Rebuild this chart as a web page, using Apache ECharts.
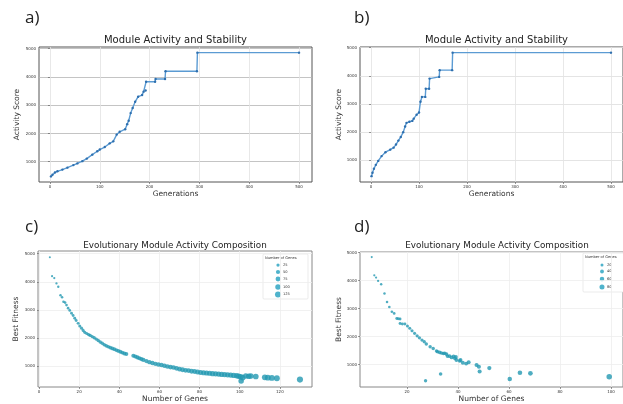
<html>
<head>
    <meta charset="UTF-8">
    <title>Module Activity</title>
    <style>
        body { margin: 0; background: #fff; }
    </style>
    <script src="https://cdn.jsdelivr.net/npm/echarts@6/dist/echarts.min.js"></script>
</head>
<body>
<div id="main" style="width: 623px;height:404px;"></div>
<script>
// a) best activity score per generation (run 1)
var genA   = [2, 5, 10, 15, 25, 35, 47, 55, 65, 74, 85, 95, 100, 110, 120, 127, 134, 140, 151, 155, 158, 162, 166, 171, 177, 185, 188, 192, 193, 211, 212, 231, 232, 295, 296, 500];
var scoreA = [480, 540, 620, 660, 720, 790, 880, 940, 1020, 1110, 1250, 1370, 1430, 1520, 1650, 1720, 1960, 2060, 2150, 2330, 2450, 2720, 2900, 3120, 3300, 3360, 3480, 3520, 3830, 3830, 3930, 3930, 4200, 4200, 4860, 4860];
// b) run 2
var genB   = [1, 3, 6, 10, 15, 22, 30, 40, 47, 52, 57, 62, 67, 71, 74, 80, 86, 89, 95, 100, 103, 106, 113, 114, 121, 122, 142, 143, 169, 170, 500];
var scoreB = [440, 560, 700, 840, 980, 1150, 1290, 1380, 1450, 1560, 1700, 1830, 2000, 2200, 2330, 2370, 2400, 2480, 2620, 2700, 3080, 3250, 3250, 3540, 3540, 3900, 3960, 4200, 4200, 4820, 4820];
// c) number of genes vs best fitness
var genesC = [5.4, 6.5, 7.6, 8.7, 9.6, 10.7, 11.5, 12.2, 13, 13.7, 14.5, 15.3, 16.2, 17, 17.8, 18.5, 19.5, 20.3, 21.2, 22, 22.8, 23.8, 24.7, 25.5, 26.5, 27.5, 28.5, 29.5, 30.5, 31.5, 32.5, 33.5, 34.5, 35.5, 36.5, 37.5, 38.5, 39.5, 40.5, 41.5, 42.5, 43.5, 47, 48, 49, 50, 51, 52, 53.5, 55, 56.5, 58, 59.5, 61, 62.5, 64, 65.5, 67, 68.5, 70, 71.5, 73, 74.5, 76, 77.5, 79, 80.5, 82, 83.5, 85, 86.5, 88, 89.5, 91, 92.5, 94, 95.5, 97, 98.5, 99.5, 100.5, 100.7, 101.5, 103, 104.5, 105.5, 108, 112.5, 114, 116, 118.5, 130];
var fitC   = [4870, 4200, 4130, 3940, 3820, 3520, 3450, 3290, 3260, 3170, 3060, 2980, 2880, 2800, 2700, 2620, 2520, 2430, 2350, 2270, 2200, 2160, 2120, 2090, 2050, 2010, 1960, 1910, 1860, 1810, 1760, 1720, 1690, 1660, 1630, 1600, 1570, 1540, 1510, 1480, 1450, 1430, 1370, 1340, 1310, 1280, 1250, 1220, 1180, 1140, 1110, 1080, 1060, 1040, 1010, 985, 965, 950, 920, 890, 870, 850, 840, 820, 810, 790, 775, 765, 755, 745, 730, 725, 715, 705, 700, 690, 680, 670, 660, 640, 620, 470, 590, 650, 640, 650, 630, 600, 590, 580, 570, 520];
// d) second run
var genesD = [6.2, 7.2, 7.9, 8.7, 9.9, 11.2, 12.2, 13.1, 14.1, 15, 16, 16.6, 17.3, 17.3, 18.2, 19.2, 20.2, 21.1, 22, 23, 24, 24.9, 25.9, 26.8, 27.6, 29.1, 30.3, 31.6, 32, 32.8, 33.5, 34.3, 34.8, 35.5, 35.9, 36.7, 37.5, 38.3, 38.8, 39.2, 39.4, 40.7, 41, 41.9, 43.2, 44.2, 27.3, 33.2, 47.3, 48.2, 48.5, 52.3, 60.3, 64.3, 68.4, 99.3];
var fitD   = [4840, 4190, 4110, 3990, 3870, 3540, 3240, 3060, 2890, 2830, 2650, 2640, 2630, 2470, 2450, 2450, 2380, 2300, 2210, 2120, 2030, 1960, 1880, 1820, 1740, 1640, 1580, 1490, 1460, 1440, 1420, 1400, 1410, 1380, 1310, 1310, 1260, 1300, 1230, 1280, 1170, 1140, 1170, 1070, 1040, 1085, 430, 670, 990, 930, 760, 880, 490, 715, 694, 573];

var genTicks   = [0, 100, 200, 300, 400, 500];
var scoreTicks = [1000, 2000, 3000, 4000, 5000];
var geneTicksC = [0, 20, 40, 60, 80, 100, 120];
var geneTicksD = [20, 40, 60, 80, 100];
var legendC    = [25, 50, 75, 100, 125];
var legendD    = [20, 40, 60, 80];

var lineTitle    = 'Module Activity and Stability';
var scatterTitle = 'Evolutionary Module Activity Composition';

function pairs(xs, ys) {
    return xs.map(function (x, i) { return [x, ys[i]]; });
}
// marker diameter grows with the square root of the gene count
function dotSize(n) {
    return 1 + 0.45 * Math.sqrt(n);
}
function plain(v) { return String(v); }

var tickFont = { fontSize: 4, color: '#333', fontFamily: 'DejaVu Sans' };
var nameFont = { fontSize: 7.5, color: '#333', fontFamily: 'DejaVu Sans' };

function xAxisOf(i, min, max, ticks, name, gridColor) {
    return {
        gridIndex: i, type: 'value', min: min, max: max,
        axisLine: { show: false },
        axisTick: { show: true, customValues: ticks, length: 2, lineStyle: { color: '#555', width: 0.6 } },
        axisLabel: { customValues: ticks, formatter: plain, margin: 3, fontSize: tickFont.fontSize, color: tickFont.color, fontFamily: tickFont.fontFamily },
        splitLine: { show: true, lineStyle: { color: gridColor, width: 0.8 } },
        name: name, nameLocation: 'middle', nameGap: 8, nameTextStyle: nameFont
    };
}
function yAxisOf(i, min, max, name, gap, gridColor) {
    return {
        gridIndex: i, type: 'value', min: min, max: max,
        axisLine: { show: false },
        axisTick: { show: true, customValues: scoreTicks, length: 2, lineStyle: { color: '#555', width: 0.6 } },
        axisLabel: { customValues: scoreTicks, formatter: plain, margin: 3, fontSize: tickFont.fontSize, color: tickFont.color, fontFamily: tickFont.fontFamily },
        splitLine: { show: true, lineStyle: { color: gridColor, width: 0.8 } },
        name: name, nameLocation: 'middle', nameGap: gap, nameTextStyle: nameFont
    };
}
function lineSeries(i, xs, ys) {
    return {
        type: 'line', xAxisIndex: i, yAxisIndex: i,
        data: pairs(xs, ys),
        symbol: 'circle', symbolSize: 2.4, showAllSymbol: true,
        lineStyle: { color: '#5b9bd3', width: 1.4 },
        itemStyle: { color: '#2e6fae' },
        animation: false
    };
}
function scatterSeries(i, xs, ys) {
    return {
        type: 'scatter', xAxisIndex: i, yAxisIndex: i,
        data: pairs(xs, ys),
        symbolSize: function (v) { return dotSize(v[0]); },
        itemStyle: { color: '#2398b2', opacity: 0.8 },
        animation: false
    };
}

// size legends drawn as small boxes inside the scatter plots
function sizeLegend(x, y, w, h, values, rowYs, dotX) {
    var els = [{
        type: 'rect', shape: { x: x, y: y, width: w, height: h, r: 1 },
        style: { fill: '#fff', stroke: '#ddd', lineWidth: 0.6 }
    }, {
        type: 'text', x: x + 2, y: y + 2,
        style: { text: 'Number of Genes', fontSize: 3.6, fill: '#333', fontFamily: 'DejaVu Sans' }
    }];
    values.forEach(function (v, k) {
        els.push({ type: 'circle', shape: { cx: dotX, cy: rowYs[k], r: dotSize(v) / 2 },
                   style: { fill: '#4fb3cc' } });
        els.push({ type: 'text', x: dotX + 5, y: rowYs[k],
                   style: { text: String(v), fontSize: 3.6, fill: '#333', fontFamily: 'DejaVu Sans', verticalAlign: 'middle' } });
    });
    return els;
}

function textEl(x, y, str, size, family, align) {
    return { type: 'text', x: x, y: y,
             style: { text: str, fontSize: size, fontFamily: family, fill: '#222', align: align, verticalAlign: 'top' } };
}

var myChart = echarts.init(document.getElementById('main'), null, { renderer: 'canvas' });
var option = {
    backgroundColor: '#fff',
    grid: [
        { left: 39, top: 47, width: 273, height: 135, show: true, borderColor: '#555', borderWidth: 1 },
        { left: 360, top: 47, width: 273, height: 135, show: true, borderColor: '#555', borderWidth: 1 },
        { left: 38, top: 251, width: 274, height: 136, show: true, borderColor: '#888', borderWidth: 1 },
        { left: 360, top: 252, width: 274, height: 135, show: true, borderColor: '#888', borderWidth: 1 }
    ],
    xAxis: [
        xAxisOf(0, -22, 526, genTicks, 'Generations', '#e2e2e2'),
        xAxisOf(1, -23, 525, genTicks, 'Generations', '#e2e2e2'),
        xAxisOf(2, -0.5, 136, geneTicksC, 'Number of Genes', '#eeeeee'),
        xAxisOf(3, 1.6, 104.7, geneTicksD, 'Number of Genes', '#eeeeee')
    ],
    yAxis: [
        yAxisOf(0, 282, 5060, 'Activity Score', 18, '#b5b5b5'),
        yAxisOf(1, 232, 5021, 'Activity Score', 16, '#dddddd'),
        yAxisOf(2, 257, 5094, 'Best Fitness', 18, '#eeeeee'),
        yAxisOf(3, 206, 5021, 'Best Fitness', 16, '#eeeeee')
    ],
    series: [
        lineSeries(0, genA, scoreA),
        lineSeries(1, genB, scoreB),
        scatterSeries(2, genesC, fitC),
        scatterSeries(3, genesD, fitD)
    ],
    graphic: [
        textEl(175.5, 35, lineTitle, 10, 'DejaVu Sans', 'center'),
        textEl(496.5, 35, lineTitle, 10, 'DejaVu Sans', 'center'),
        textEl(175, 241, scatterTitle, 8.8, 'DejaVu Sans', 'center'),
        textEl(497, 241, scatterTitle, 8.8, 'DejaVu Sans', 'center'),
        textEl(25, 10, 'a)', 17, 'Open Sans', 'left'),
        textEl(354, 10, 'b)', 17, 'Open Sans', 'left'),
        textEl(25, 219, 'c)', 17, 'Open Sans', 'left'),
        textEl(354, 219, 'd)', 17, 'Open Sans', 'left')
    ].concat(
        sizeLegend(263, 254, 45, 45, legendC, [265, 272, 279, 287, 294.5], 278),
        sizeLegend(583, 253, 50, 39, legendD, [265, 271.5, 279, 287], 602)
    )
};
myChart.setOption(option);
</script>
</body>
</html>
